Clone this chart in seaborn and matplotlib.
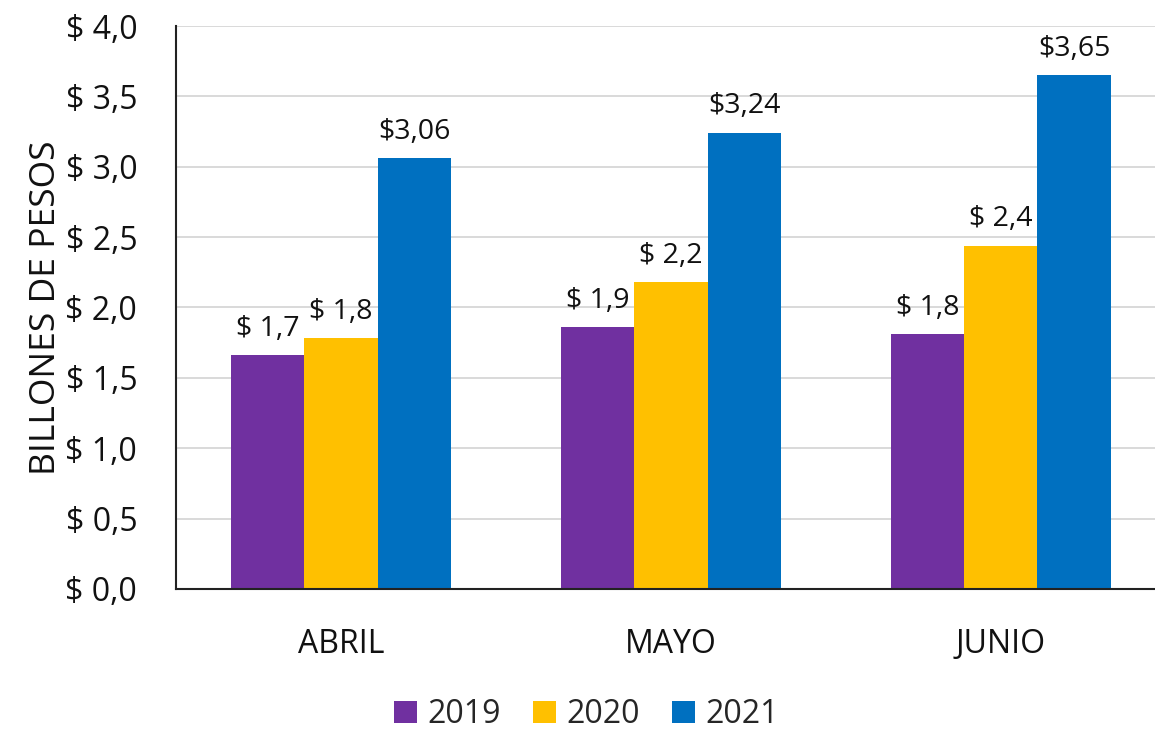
import numpy as np
import pandas as pd
import matplotlib
matplotlib.use("Agg")
import matplotlib.pyplot as plt
import seaborn as sns
from matplotlib.patches import Patch

# data
months = ["ABRIL", "MAYO", "JUNIO"]
years = ["2019", "2020", "2021"]
vals_2019 = [1.66, 1.86, 1.81]
vals_2020 = [1.78, 2.18, 2.44]
vals_2021 = [3.06, 3.24, 3.65]
labels_2019 = ["$ 1,7", "$ 1,9", "$ 1,8"]
labels_2020 = ["$ 1,8", "$ 2,2", "$ 2,4"]
labels_2021 = ["$3,06", "$3,24", "$3,65"]
yticks = [0.0, 0.5, 1.0, 1.5, 2.0, 2.5, 3.0, 3.5, 4.0]
colors = ["#7030A0", "#FFC000", "#0070C0"]

df = pd.DataFrame({
    "mes": months * 3,
    "anio": [y for y in years for _ in months],
    "valor": vals_2019 + vals_2020 + vals_2021,
})

sns.set_style("white")
plt.rcParams["font.family"] = ["Open Sans", "DejaVu Sans"]

fig = plt.figure(figsize=(11.55, 7.31), dpi=100)
# the plot area runs a bit past the right edge of the image, like the original
ax = fig.add_axes([0.1524, 0.1943, 0.8571, 0.7701])

sns.barplot(data=df, x="mes", y="valor", hue="anio", order=months,
            hue_order=years, palette=colors, width=0.664, gap=0,
            linewidth=0, saturation=1, legend=False, ax=ax)

for cont, labs in zip(ax.containers, [labels_2019, labels_2020, labels_2021]):
    ax.bar_label(cont, labels=labs, padding=9, fontsize=20.5, color="#111111")

ax.set_ylim(0, 4.0)
ax.set_xlim(-0.5, 2.5)
ax.set_yticks(yticks)
ax.set_yticklabels([f"$ {v:.1f}".replace(".", ",") for v in yticks])
ax.tick_params(axis="y", length=0, pad=28, labelsize=23, labelcolor="#111111")
ax.tick_params(axis="x", length=0, pad=28, labelsize=23, labelcolor="#111111")
ax.set_xlabel("")
ax.set_ylabel("BILLONES DE PESOS", fontsize=25.5, color="#111111", labelpad=2)

ax.yaxis.grid(True, color="#D9D9D9", linewidth=1.4)
ax.set_axisbelow(True)
for s in ["top", "right"]:
    ax.spines[s].set_visible(False)
for s in ["left", "bottom"]:
    ax.spines[s].set_color("#222222")
    ax.spines[s].set_linewidth(1.5)

handles = [Patch(facecolor=c, edgecolor="none") for c in colors]
fig.legend(handles, years, loc="center", bbox_to_anchor=(0.508, 0.022),
           ncol=3, frameon=False, fontsize=23, handlelength=0.7,
           handleheight=0.7, handletextpad=0.35, columnspacing=1.0)

fig.savefig("out.png", dpi=100)
